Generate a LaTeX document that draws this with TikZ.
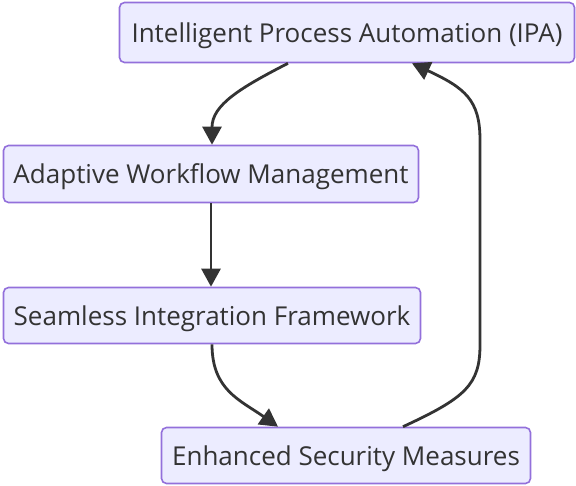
\documentclass[tikz,border=0pt]{standalone}
\usepackage{fontspec}
\setmainfont{Open Sans}
\usetikzlibrary{arrows.meta}
\definecolor{boxfill}{HTML}{ECECFF}
\definecolor{boxline}{HTML}{9370DB}
\definecolor{ink}{HTML}{333333}
\begin{document}
\begin{tikzpicture}[x=1pt,y=-1pt,
  box/.style={draw=boxline,fill=boxfill,line width=1.6pt,rounded corners=5pt,
    inner sep=0pt,text=ink,text depth=0pt,font=\fontsize{26}{30}\selectfont},
  conn/.style={draw=ink,line width=2.8pt,-{Triangle[length=18pt,width=19pt]}}]
\useasboundingbox (0,0) rectangle (576,486);
\node[box,minimum width=455pt,minimum height=60pt] (A) at (347,32.5) {Intelligent Process Automation (IPA)};
\node[box,minimum width=415pt,minimum height=57pt] (B) at (211,174) {Adaptive Workflow Management};
\node[box,minimum width=417pt,minimum height=56pt] (C) at (212,315.5) {Seamless Integration Framework};
\node[box,minimum width=369pt,minimum height=56pt] (D) at (346,455.5) {Enhanced Security Measures};
\draw[conn] ([xshift=-59pt]A.south) .. controls (240,88) and (212,105) .. ([xshift=1pt]B.north);
\draw[conn] (B.south) -- (C.north -| B.south);
\draw[conn] (C.south) .. controls (212,390) and (240,400) .. ([xshift=-68pt]D.north);
\draw[conn] ([xshift=57pt]D.north) .. controls (465,398) and (480,385) .. (480,345) -- (480,140) .. controls (480,100) and (465,88) .. ([xshift=65pt]A.south);
\end{tikzpicture}
\end{document}
